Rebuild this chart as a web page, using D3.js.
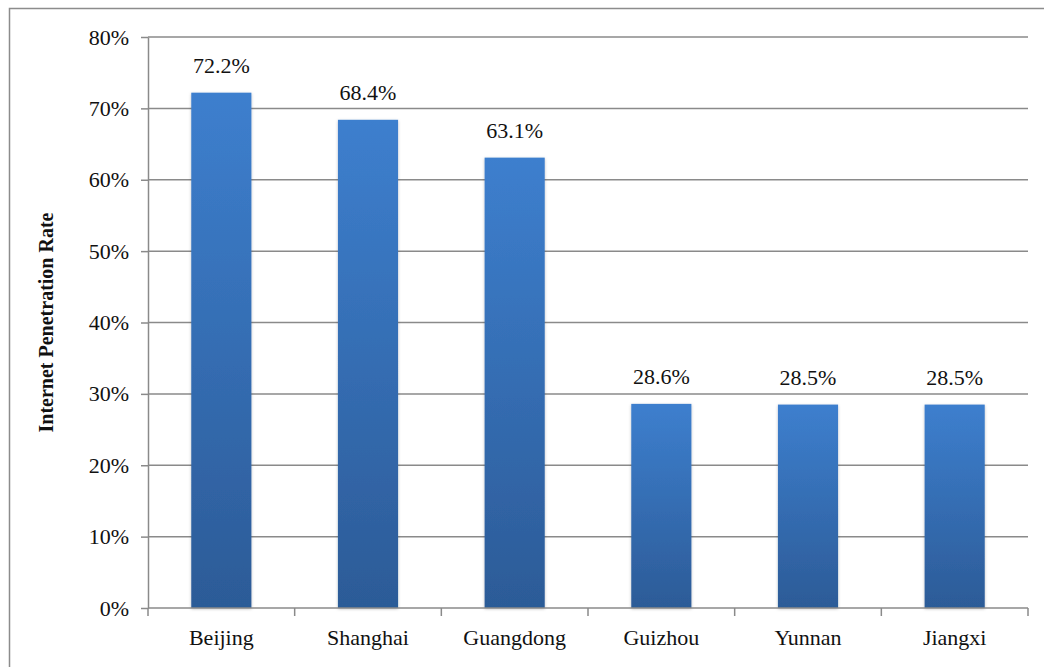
<!DOCTYPE html>
<html>
<head>
<meta charset="utf-8">
<script src="https://cdn.jsdelivr.net/npm/d3@7"></script>
<style>
  body { margin: 0; background: #fff; }
</style>
</head>
<body>
<svg id="chart" width="1044" height="667"></svg>
<script>
const provinces = ["Beijing", "Shanghai", "Guangdong", "Guizhou", "Yunnan", "Jiangxi"];
const rates = [72.2, 68.4, 63.1, 28.6, 28.5, 28.5];
const yTicks = [0, 10, 20, 30, 40, 50, 60, 70, 80];

const FONT = "'Liberation Serif', 'Times New Roman', serif";
const svg = d3.select("#chart");
const margin = { left: 148, right: 16, top: 37, bottom: 59 };
const width = 1044, height = 667;

// outer frame
svg.append("rect")
    .attr("x", 9.5).attr("y", 8.5)
    .attr("width", 1060).attr("height", 700)
    .attr("fill", "none").attr("stroke", "#8c8c8c").attr("stroke-width", 1.5);

const x = d3.scaleBand()
    .domain(provinces)
    .range([margin.left, width - margin.right])
    .paddingInner(0.59).paddingOuter(0.295);

const y = d3.scaleLinear()
    .domain([0, 80])
    .range([height - margin.bottom, margin.top]);

const defs = svg.append("defs");
const grad = defs.append("linearGradient")
    .attr("id", "barGrad").attr("x1", 0).attr("y1", 0).attr("x2", 0).attr("y2", 1);
grad.append("stop").attr("offset", "0%").attr("stop-color", "#3d7fce");
grad.append("stop").attr("offset", "100%").attr("stop-color", "#2c5b97");

const shadow = defs.append("filter").attr("id", "shadow")
    .attr("x", "-20%").attr("y", "-5%").attr("width", "140%").attr("height", "110%");
shadow.append("feDropShadow")
    .attr("dx", 0).attr("dy", 1).attr("stdDeviation", 1.5)
    .attr("flood-color", "#000").attr("flood-opacity", 0.25);

// gridlines
svg.append("g")
    .selectAll("line")
    .data(yTicks.filter(d => d > 0))
    .join("line")
    .attr("x1", margin.left).attr("x2", width - margin.right)
    .attr("y1", d => y(d)).attr("y2", d => y(d))
    .attr("stroke", "#8a8a8a").attr("stroke-width", 1.5);

// y axis
const yAxis = svg.append("g")
    .attr("transform", `translate(${margin.left},0)`)
    .call(d3.axisLeft(y).tickValues(yTicks).tickSize(7).tickSizeOuter(0).tickFormat(d => d + "%"));
yAxis.selectAll("text")
    .style("font-family", FONT).style("font-size", "22px")
    .attr("fill", "#111").attr("dx", "-9");
yAxis.selectAll("line, path").attr("stroke", "#8a8a8a").attr("stroke-width", 1.5);

// bars
svg.append("g")
    .selectAll("rect")
    .data(provinces)
    .join("rect")
    .attr("x", d => x(d))
    .attr("width", x.bandwidth())
    .attr("y", (d, i) => y(rates[i]))
    .attr("height", (d, i) => y(0) - y(rates[i]))
    .attr("fill", "url(#barGrad)")
    .attr("filter", "url(#shadow)");

// x axis with ticks at band boundaries
const bottom = y(0);
svg.append("line")
    .attr("x1", margin.left).attr("x2", width - margin.right)
    .attr("y1", bottom).attr("y2", bottom)
    .attr("stroke", "#8a8a8a").attr("stroke-width", 1.5);
const step = x.step();
svg.append("g")
    .selectAll("line")
    .data(d3.range(provinces.length + 1))
    .join("line")
    .attr("x1", i => margin.left + i * step).attr("x2", i => margin.left + i * step)
    .attr("y1", bottom).attr("y2", bottom + 8)
    .attr("stroke", "#8a8a8a").attr("stroke-width", 1.5);

svg.append("g")
    .selectAll("text")
    .data(provinces)
    .join("text")
    .attr("x", d => x(d) + x.bandwidth() / 2)
    .attr("y", bottom + 37)
    .attr("text-anchor", "middle")
    .style("font-family", FONT).style("font-size", "22px")
    .attr("fill", "#111")
    .text(d => d);

// value labels
svg.append("g")
    .selectAll("text")
    .data(provinces)
    .join("text")
    .attr("x", d => x(d) + x.bandwidth() / 2)
    .attr("y", (d, i) => y(rates[i]) - 20)
    .attr("text-anchor", "middle")
    .style("font-family", FONT).style("font-size", "22px")
    .attr("fill", "#111")
    .text((d, i) => rates[i].toFixed(1) + "%");

// axis title
svg.append("text")
    .attr("transform", `translate(53,${(margin.top + bottom) / 2}) rotate(-90)`)
    .attr("text-anchor", "middle")
    .style("font-family", FONT).style("font-size", "20px")
    .attr("font-weight", "bold")
    .attr("fill", "#111")
    .text("Internet Penetration Rate");
</script>
</body>
</html>
